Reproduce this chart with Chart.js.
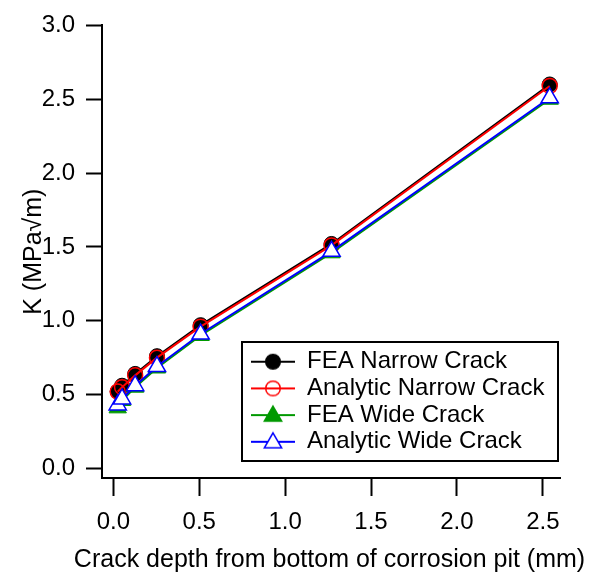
<!DOCTYPE html>
<html lang="en">
<head>
  <meta charset="UTF-8">
  <title>K vs crack depth</title>
  <script src="https://cdn.jsdelivr.net/npm/chart.js"></script>
  <style>
    body { margin: 0; background: #fff; }
    canvas { display: block; }
  </style>
</head>
<body>
  <canvas id="kChart" width="594" height="575"></canvas>
  <script>
    // crack depths (mm) = 0.001" .. 0.1"
    const depths = [0.0254, 0.0508, 0.127, 0.254, 0.508, 1.27, 2.54];
    const feaNarrow = [0.52, 0.56, 0.64, 0.76, 0.97, 1.52, 2.60];
    const anaNarrow = [0.52, 0.55, 0.63, 0.75, 0.96, 1.51, 2.59];
    const feaWide = [0.41, 0.46, 0.55, 0.68, 0.90, 1.46, 2.50];
    const anaWide = [0.43, 0.47, 0.56, 0.69, 0.91, 1.47, 2.51];
    const xTicks = [0, 0.5, 1.0, 1.5, 2.0, 2.5];
    const yTicks = [0, 0.5, 1.0, 1.5, 2.0, 2.5, 3.0];
    const xTitle = "Crack depth from bottom of corrosion pit (mm)";
    const yTitle = "K (MPa\u221Am)";

    const FONT = "'Liberation Sans', Arial, sans-serif";
    const FS = 24;      // ticks + legend
    const TFS = 25;     // axis titles
    const GREEN = "#009900";

    function pts(ys) {
      return depths.map((x, i) => ({ x: x, y: ys[i] }));
    }

    // small line+marker pictures for the legend
    function legendIcon(color, style, fill) {
      const c = document.createElement("canvas");
      c.width = 44; c.height = 24;
      const g = c.getContext("2d");
      g.strokeStyle = color; g.lineWidth = 2;
      g.beginPath(); g.moveTo(0, 12); g.lineTo(44, 12); g.stroke();
      g.beginPath();
      if (style === "circle") {
        g.arc(22, 12, 7.3, 0, Math.PI * 2);
      } else {
        const r = 10;
        for (let k = 0; k < 3; k++) {
          const a = k * 2 * Math.PI / 3;
          const px = 22 + Math.sin(a) * r, py = 13 - Math.cos(a) * r;
          k ? g.lineTo(px, py) : g.moveTo(px, py);
        }
        g.closePath();
      }
      if (fill) { g.fillStyle = fill; g.fill(); }
      g.lineWidth = 1.5;
      g.stroke();
      return c;
    }

    const icons = [
      legendIcon("#000", "circle", "#000"),
      legendIcon("#ff0000", "circle", null),
      legendIcon(GREEN, "triangle", GREEN),
      legendIcon("#0000ff", "triangle", "#fff")
    ];

    // legend frame/position, and the x title (scale titles get squeezed to the axis width)
    const extras = {
      id: "extras",
      afterLayout(chart) {
        const lg = chart.legend;
        const w = lg.width, h = lg.height;
        lg.left = 251 - 2.7; lg.top = 347;
        lg.right = lg.left + w; lg.bottom = lg.top + h;
      },
      afterDraw(chart) {
        const g = chart.ctx;
        g.save();
        g.strokeStyle = "#000";
        g.lineWidth = 2;
        g.strokeRect(242, 342, 316, 119);
        g.fillStyle = "#000";
        g.font = TFS + "px " + FONT;
        g.textAlign = "center";
        g.textBaseline = "middle";
        g.fillText(xTitle, 329.5, 560);
        g.restore();
      }
    };

    const axisCommon = {
      type: "linear",
      grid: { drawOnChartArea: false, drawTicks: true, tickColor: "#000", tickWidth: 2 },
      border: { display: true, color: "#000", width: 2 },
      ticks: {
        color: "#000", font: { family: FONT, size: FS }, autoSkip: false, maxRotation: 0,
        callback: v => v.toFixed(1)
      }
    };

    new Chart(document.getElementById("kChart"), {
      type: "line",
      data: {
        datasets: [
          { label: "FEA Narrow Crack", data: pts(feaNarrow), borderColor: "#000", backgroundColor: "#000",
            pointStyle: "circle", pointRadius: 7.5, pointBorderWidth: 1, order: 3 },
          { label: "Analytic Narrow Crack", data: pts(anaNarrow), borderColor: "#ff0000", backgroundColor: "rgba(0,0,0,0)",
            pointStyle: "circle", pointRadius: 7.5, pointBorderWidth: 1.5, order: 2 },
          { label: "FEA Wide Crack", data: pts(feaWide), borderColor: GREEN, backgroundColor: GREEN,
            pointStyle: "triangle", pointRadius: 10, pointBorderWidth: 1, order: 1 },
          { label: "Analytic Wide Crack", data: pts(anaWide), borderColor: "#0000ff", backgroundColor: "#fff",
            pointStyle: "triangle", pointRadius: 10, pointBorderWidth: 1.5, order: 0 }
        ].map(d => Object.assign(d, { borderWidth: 2, tension: 0, fill: false, clip: false }))
      },
      options: {
        responsive: false,
        animation: false,
        layout: { padding: { top: 21.7, right: 34, bottom: 0, left: 0 } },
        plugins: {
          tooltip: { enabled: false },
          legend: {
            position: "chartArea",
            align: "start",
            labels: {
              usePointStyle: true,
              pointStyleWidth: 44,
              boxHeight: FS,
              padding: 2.7,
              color: "#000",
              font: { family: FONT, size: FS },
              generateLabels(chart) {
                return chart.data.datasets.map((d, i) => ({
                  text: d.label, pointStyle: icons[i], datasetIndex: i,
                  fillStyle: d.backgroundColor, strokeStyle: d.borderColor, lineWidth: 0, hidden: false
                }));
              }
            }
          }
        },
        scales: {
          x: Object.assign({}, axisCommon, {
            min: -0.066, max: 2.6,
            grid: Object.assign({}, axisCommon.grid, { tickLength: 18 }),
            ticks: Object.assign({}, axisCommon.ticks, { padding: 12 }),
            title: { display: false },
            afterBuildTicks: s => { s.ticks = xTicks.map(v => ({ value: v })); },
            afterFit: s => { s.height = 97; }
          }),
          y: Object.assign({}, axisCommon, {
            min: -0.065, max: 3.0,
            grid: Object.assign({}, axisCommon.grid, { tickLength: 16 }),
            ticks: Object.assign({}, axisCommon.ticks, { padding: 11 }),
            title: { display: true, text: yTitle, color: "#000", font: { family: FONT, size: TFS }, padding: { top: 19, bottom: 0 } },
            afterBuildTicks: s => { s.ticks = yTicks.map(v => ({ value: v })); },
            afterFit: s => { s.width = 102; }
          })
        }
      },
      plugins: [extras]
    });
  </script>
</body>
</html>
